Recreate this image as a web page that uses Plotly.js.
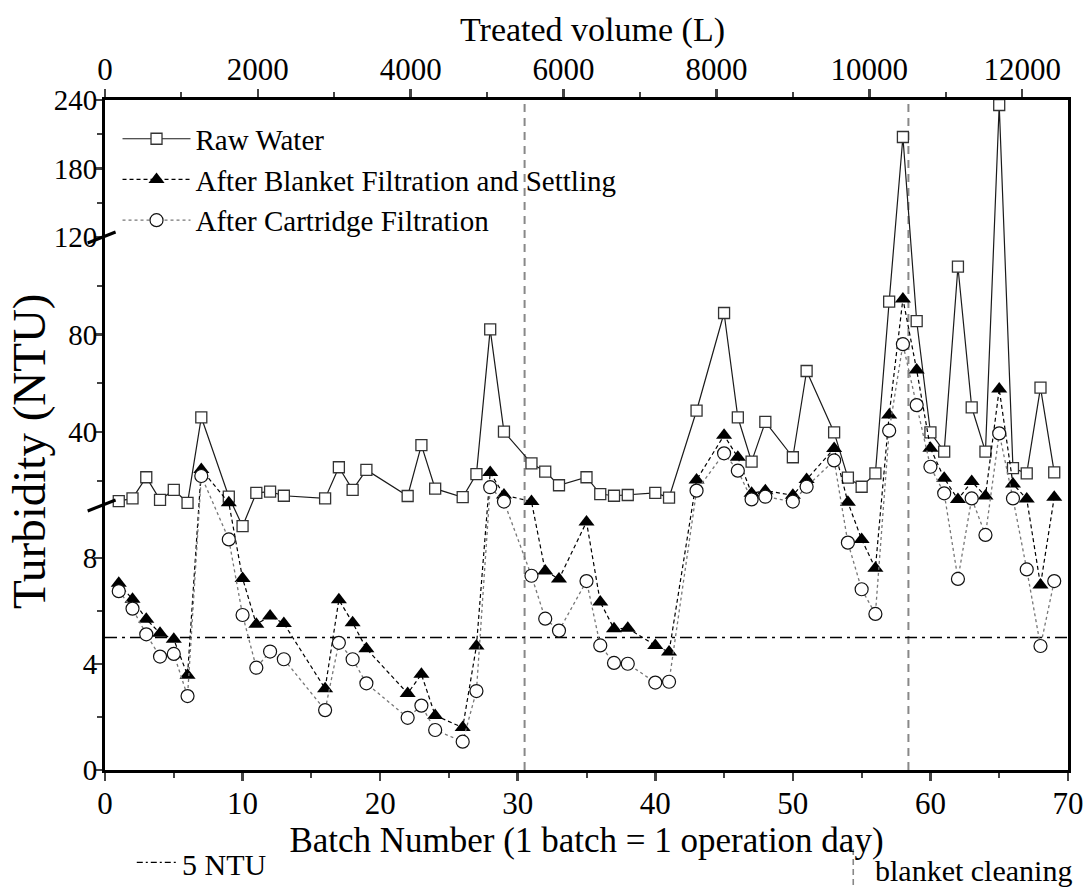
<!DOCTYPE html>
<html>
<head>
<meta charset="utf-8">
<script src="https://cdn.plot.ly/plotly-3.0.1.min.js"></script>
<style>html,body{margin:0;padding:0;background:#fff;}#chart{width:1087px;height:888px;}</style>
</head>
<body>
<div id="chart"></div>
<script>
// ---- data ----
const batch = [1,2,3,4,5,6,7,9,10,11,12,13,16,17,18,19,22,23,24,26,27,28,29,31,32,33,35,36,37,38,40,41,43,45,46,47,48,50,51,53,54,55,56,57,58,59,60,61,62,63,64,65,66,67,68,69];
const rawWater = [11.6,12.7,21.4,12.1,16.2,10.9,46.0,13.4,9.2,15.0,15.5,13.8,12.7,25.5,16.2,24.4,13.7,34.6,16.7,13.2,22.7,82.1,40.1,27.1,23.7,18.1,21.4,14.5,13.8,14.1,15.0,13.0,48.7,88.8,46.0,27.8,44.1,29.6,65.0,39.8,21.2,17.5,23.0,93.5,207.6,85.5,39.8,31.9,107.8,50.1,31.9,235.6,25.1,23.0,58.2,23.4];
const afterBlanket = [7.05,6.44,5.69,5.16,4.93,3.58,24.6,10.9,7.23,5.50,5.81,5.53,3.07,6.42,5.56,4.58,2.89,3.61,2.06,1.60,4.68,23.3,14.1,11.4,7.51,7.21,9.36,6.34,5.33,5.35,4.70,4.45,20.3,38.6,29.6,14.8,15.9,14.0,20.5,33.2,11.1,8.70,7.61,46.9,94.6,65.4,33.3,21.0,12.3,19.6,13.7,57.6,18.6,12.5,6.98,13.2];
const afterCartridge = [6.75,6.09,5.12,4.28,4.38,2.79,21.9,8.7,5.85,3.86,4.47,4.18,2.26,4.80,4.18,3.27,1.97,2.43,1.51,1.07,2.98,17.3,11.4,7.33,5.71,5.26,7.13,4.70,4.04,4.01,3.30,3.33,15.9,31.2,24.1,12.3,13.4,11.4,17.5,28.3,8.58,6.82,5.89,40.5,76.0,51.0,25.7,14.8,7.21,12.7,8.87,39.4,12.7,7.57,4.68,7.13];
const yTickValues = [0,4,8,40,80,120,180,240];
const yTickLabels = ['0','4','8','40','80','120','180','240'];
const yMinorValues = [2,6,20,60,100,150,210];
const yBreaks = [10,120];
const limitNTU = 5;
const cleaningBatches = [30.5,58.4];
const batchTicks = [0,10,20,30,40,50,60,70];
const batchMinor = [5,15,25,35,45,55,65];
const volumeTicks = [0,2000,4000,6000,8000,10000,12000];
const volumeMinor = [1000,3000,5000,7000,9000,11000];

// ---- broken-axis mapping (three linear segments: 0-10, 10-120, 120-240) ----
function T(v){
  if (v <= 10) return v*26.5;
  if (v <= 120) return 265 + (v-10)*268/110;
  return 533 + (v-120)*137/120;
}
const tf = arr => arr.map(T);

const FONT = 'Liberation Serif';

const traces = [
  {x: batch, y: tf(rawWater), name: 'Raw Water', mode: 'lines+markers', type: 'scatter',
   line: {color: '#1a1a1a', width: 1.2},
   marker: {symbol: 'square', size: 11, color: '#fff', line: {color: '#333', width: 1.3}}},
  {x: batch, y: tf(afterBlanket), name: 'After Blanket Filtration and Settling', mode: 'lines+markers', type: 'scatter',
   line: {color: '#000', width: 1.2, dash: '4px,3px'},
   marker: {symbol: 'triangle-up', size: 14, color: '#000', line: {width: 0}}},
  {x: batch, y: tf(afterCartridge), name: 'After Cartridge Filtration', mode: 'lines+markers', type: 'scatter',
   line: {color: '#777', width: 1.3, dash: 'dot'},
   marker: {symbol: 'circle', size: 13, color: '#fff', line: {color: '#111', width: 1.2}}},
  // empty trace that only links the top (treated volume) axis
  {x: [], y: [], xaxis: 'x2', yaxis: 'y', type: 'scatter', mode: 'markers', showlegend: false, hoverinfo: 'skip'}
];

const shapes = [];
cleaningBatches.forEach(b => shapes.push({type: 'line', xref: 'x', yref: 'paper', x0: b, x1: b, y0: 0, y1: 1,
  line: {color: '#888', width: 2, dash: '8px,6px'}, layer: 'below'}));
shapes.push({type: 'line', xref: 'paper', yref: 'y', x0: 0, x1: 1, y0: T(limitNTU), y1: T(limitNTU),
  line: {color: '#000', width: 1.6, dash: '12px,5px,3px,5px'}, layer: 'below'});
yBreaks.forEach(v => shapes.push({type: 'line', xref: 'paper', yref: 'y', x0: -0.018, x1: 0.011, y0: T(v)-6, y1: T(v)+5,
  line: {color: '#000', width: 3}}));
// bottom key samples
shapes.push({type: 'line', xref: 'paper', yref: 'paper', x0: 0.033, x1: 0.074, y0: -0.138, y1: -0.138,
  line: {color: '#000', width: 1.3, dash: '6px,3px,2px,3px'}});
shapes.push({type: 'line', xref: 'paper', yref: 'paper', x0: 0.777, x1: 0.777, y0: -0.118, y1: -0.172,
  line: {color: '#888', width: 1.6, dash: '6px,4px'}});

const layout = {
  width: 1087, height: 888,
  margin: {l: 105, r: 19, t: 100, b: 118},
  paper_bgcolor: '#fff', plot_bgcolor: '#fff',
  font: {family: FONT, color: '#000', size: 29},
  showlegend: true,
  legend: {x: 0.013, y: 0.98, xanchor: 'left', yanchor: 'top', bgcolor: 'rgba(0,0,0,0)',
           font: {family: FONT, size: 29, color: '#000'}, itemwidth: 68, tracegroupgap: 0},
  xaxis: {range: [0, 70], tickvals: batchTicks, ticks: 'outside', ticklen: 8, tickwidth: 2.5,
          minor: {tickvals: batchMinor, ticks: 'outside', ticklen: 5, tickwidth: 2},
          showline: true, linewidth: 3, linecolor: '#000', showgrid: false, zeroline: false, mirror: false,
          tickfont: {family: FONT, size: 31}, automargin: false, ticklabelstandoff: -4,
          title: {text: 'Batch Number (1 batch = 1 operation day)', font: {family: FONT, size: 35}, standoff: 0}},
  xaxis2: {range: [0, 12600], overlaying: 'x', side: 'top', anchor: 'y', tickvals: volumeTicks,
           ticktext: volumeTicks.map(String), ticks: 'outside', ticklen: 8, tickwidth: 2.5,
           minor: {tickvals: volumeMinor, ticks: 'outside', ticklen: 5, tickwidth: 2},
           showline: true, linewidth: 3, linecolor: '#000', showgrid: false, zeroline: false,
           tickfont: {family: FONT, size: 31}, automargin: false, ticklabelstandoff: -3},
  yaxis: {range: [0, 670], tickvals: tf(yTickValues), ticktext: yTickLabels, ticks: 'outside', ticklen: 8, tickwidth: 2.5,
          minor: {tickvals: tf(yMinorValues), ticks: 'outside', ticklen: 5, tickwidth: 2},
          showline: true, linewidth: 3, linecolor: '#000', showgrid: false, zeroline: false, mirror: true,
          tickfont: {family: FONT, size: 29}, automargin: false, ticklabelstandoff: -9},
  shapes: shapes,
  annotations: [
    {xref: 'paper', yref: 'paper', x: -0.079, y: 0.476, xanchor: 'center', yanchor: 'middle', showarrow: false,
     textangle: -90, text: 'Turbidity (NTU)', font: {family: FONT, size: 47}},
    {xref: 'paper', yref: 'paper', x: 0.506, y: 1.104, xanchor: 'center', yanchor: 'middle', showarrow: false,
     text: 'Treated volume (L)', font: {family: FONT, size: 34}},
    {xref: 'paper', yref: 'paper', x: 0.078, y: -0.141, xanchor: 'left', yanchor: 'middle', showarrow: false,
     text: '5 NTU', font: {family: FONT, size: 30}},
    {xref: 'paper', yref: 'paper', x: 0.797, y: -0.150, xanchor: 'left', yanchor: 'middle', showarrow: false,
     text: 'blanket cleaning', font: {family: FONT, size: 30}}
  ]
};

Plotly.newPlot('chart', traces, layout, {displayModeBar: false, staticPlot: true});
</script>
</body>
</html>
